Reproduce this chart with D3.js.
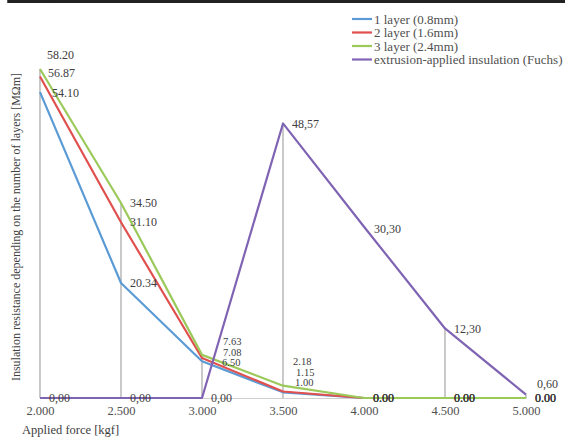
<!DOCTYPE html>
<html>
<head>
<meta charset="utf-8">
<script src="https://cdn.jsdelivr.net/npm/d3@7"></script>
<style>
  body { margin: 0; background: #fff; }
  svg, svg text { font-family: "Liberation Serif", "Times New Roman", "DejaVu Serif", serif; }
</style>
</head>
<body>
<script>
// donnees
const forces = [2.0, 2.5, 3.0, 3.5, 4.0, 4.5, 5.0]
const layer1 = [54.10, 20.34, 6.50, 1.00, 0, 0, 0]
const layer2 = [56.87, 31.10, 7.08, 1.15, 0, 0, 0]
const layer3 = [58.20, 34.50, 7.63, 2.18, 0, 0, 0]
const fuchs = [0, 0, 0, 48.57, 30.30, 12.30, 0.60]
const labels1 = ['54.10', '20.34', '6.50', '1.00', '0.00', '0.00', '0.00']
const labels2 = ['56.87', '31.10', '7.08', '1.15', '0.00', '0.00', '0.00']
const labels3 = ['58.20', '34.50', '7.63', '2.18', '0.00', '0.00', '0.00']
const labelsF = ['0,00', '0,00', '0,00', '48,57', '30,30', '12,30', '0,60']
const seriesNames = ['1 layer (0.8mm)', '2 layer (1.6mm)', '3 layer (2.4mm)', 'extrusion-applied insulation (Fuchs)']
const dropForces = [2.0, 2.5, 3.0, 3.5, 4.5, 5.0]

const colors = ['#5b9bd5', '#e0504e', '#9bc95a', '#8064b4']

const series = [
  {name: seriesNames[0], values: layer1, labels: labels1, color: colors[0]},
  {name: seriesNames[1], values: layer2, labels: labels2, color: colors[1]},
  {name: seriesNames[2], values: layer3, labels: labels3, color: colors[2]},
  {name: seriesNames[3], values: fuchs, labels: labelsF, color: colors[3]}
]

// decalage des etiquettes (serie-point) -> [dx, dy]
const labelShift = {
  '2-0': [7, -14], '1-0': [8, -4], '0-0': [12, 1],
  '2-2': [21, -14], '1-2': [21, -6], '0-2': [20, 1],
  '2-3': [10, -24], '1-3': [13, -19], '0-3': [12, -10],
  '3-4': [10, 2], '3-6': [11, -11]
}

const width = 565
const height = 437
const serif = '"Liberation Serif", "Times New Roman", serif'

const svg = d3.select('body')
  .append('svg')
  .attr('width', width)
  .attr('height', height)
  .attr('font-family', serif)

// bordure du tableau en haut
svg.append('line')
  .attr('x1', 8).attr('x2', width).attr('y1', 1.5).attr('y2', 1.5)
  .attr('stroke', '#222').attr('stroke-width', 3)
svg.selectAll('.cell')
  .data([8, 55])
  .enter()
  .append('line')
  .attr('x1', d => d).attr('x2', d => d)
  .attr('y1', 0).attr('y2', 3)
  .attr('stroke', '#222').attr('stroke-width', 1.5)

const x = d3.scaleLinear()
  .domain([2, 5])
  .range([40, 526])

const y = d3.scaleLinear()
  .domain([0, 58.2])
  .range([398, 69])

const graph = svg.append('g')

// axe des x
const axeX = d3.axisBottom(x)
  .tickValues(forces)
  .tickFormat(d3.format('.3f'))
  .tickSize(0)
  .tickPadding(8)

const groupX = graph.append('g')
  .attr('transform', `translate(0, ${y(0)})`)
  .call(axeX)
groupX.attr('font-family', serif)
groupX.select('.domain').attr('stroke', '#d0d0d0').attr('stroke-width', 1)
groupX.selectAll('text')
  .attr('font-size', '12.5px')
  .attr('fill', '#505050')

// lignes de rappel verticales
graph.selectAll('.drop')
  .data(dropForces)
  .enter()
  .append('line')
  .attr('x1', d => x(d))
  .attr('x2', d => x(d))
  .attr('y1', d => {
    const i = forces.indexOf(d)
    return y(d3.max(series, s => s.values[i]))
  })
  .attr('y2', y(0))
  .attr('stroke', '#a6a6a6')
  .attr('stroke-width', 1.2)

// courbes
const line = d3.line()
  .x((d, i) => x(forces[i]))
  .y(d => y(d))

graph.selectAll('.serie')
  .data(series)
  .enter()
  .append('path')
  .attr('d', d => line(d.values))
  .attr('fill', 'none')
  .attr('stroke', d => d.color)
  .attr('stroke-width', 2.2)
  .attr('stroke-linejoin', 'round')

// etiquettes de donnees (plus petites la ou elles se chevauchent)
series.forEach((s, si) => {
  graph.selectAll('.lab' + si)
    .data(s.values)
    .enter()
    .append('text')
    .attr('x', (d, i) => x(forces[i]) + (labelShift[si + '-' + i] || [9, 0])[0])
    .attr('y', (d, i) => y(d) + (labelShift[si + '-' + i] || [9, 0])[1])
    .attr('dy', '0.35em')
    .attr('font-size', (d, i) => (si < 3 && (i === 2 || i === 3)) ? '10.5px' : '12px')
    .attr('fill', '#404040')
    .text((d, i) => s.labels[i])
})

// titres des axes
svg.append('text')
  .attr('transform', 'translate(16, 227) rotate(-90)')
  .attr('text-anchor', 'middle')
  .attr('dy', '0.35em')
  .attr('font-size', '12px')
  .attr('fill', '#404040')
  .text('Insulation resistance depending on the number of layers [MΩm]')

svg.append('text')
  .attr('x', 22)
  .attr('y', 434)
  .attr('font-size', '12.5px')
  .attr('fill', '#404040')
  .text('Applied force [kgf]')

// legende
const legend = svg.append('g')
  .attr('transform', 'translate(352, 19)')
const rows = legend.selectAll('g')
  .data(series)
  .enter()
  .append('g')
  .attr('transform', (d, i) => `translate(0, ${i * 13.5})`)
rows.append('line')
  .attr('x1', 0).attr('x2', 20)
  .attr('stroke', d => d.color)
  .attr('stroke-width', 2.2)
rows.append('text')
  .attr('x', 22)
  .attr('dy', '0.35em')
  .attr('font-size', '13px')
  .attr('fill', '#505050')
  .text(d => d.name)
</script>
</body>
</html>
